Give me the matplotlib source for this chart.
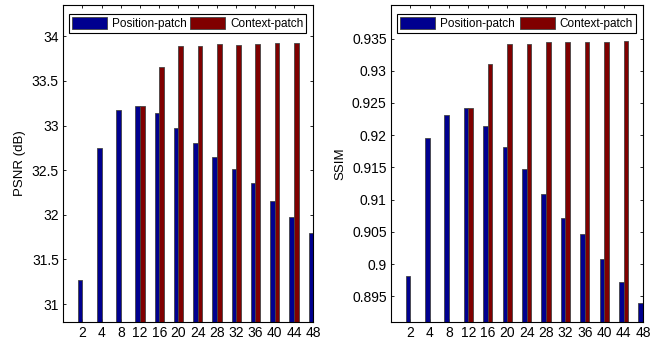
import numpy as np
import matplotlib
matplotlib.use("Agg")
import matplotlib.pyplot as plt

plt.rcParams["font.family"] = ["Liberation Sans", "DejaVu Sans"]

# patch sizes (x categories)
sizes = ["2", "4", "8", "12", "16", "20", "24", "28", "32", "36", "40", "44", "48"]

# PSNR (dB)
psnr_position = [31.27, 32.75, 33.18, 33.22, 33.14, 32.97, 32.80, 32.65, 32.51, 32.36, 32.15, 31.98, 31.80]
psnr_context = [np.nan, np.nan, np.nan, 33.22, 33.66, 33.89, 33.89, 33.91, 33.90, 33.91, 33.92, 33.92, 33.92]

# SSIM
ssim_position = [0.8982, 0.9196, 0.9231, 0.9242, 0.9214, 0.9182, 0.9147, 0.9109, 0.9071, 0.9046, 0.9008, 0.8972, 0.8939]
ssim_context = [np.nan, np.nan, np.nan, 0.9242, 0.9311, 0.9342, 0.9342, 0.9344, 0.9345, 0.9345, 0.9345, 0.9346, 0.9346]

BLUE = "#00008f"
RED = "#800000"


def draw_panel(ax, pos_vals, ctx_vals, ylim, yticks, yticklabels, ylabel):
    x = np.arange(1, len(sizes) + 1)
    w = 0.24
    b1 = ax.bar(x - w / 2, pos_vals, width=w, color=BLUE, edgecolor="#444444",
                linewidth=0.6, label="Position-patch", zorder=2)
    b2 = ax.bar(x + w / 2, ctx_vals, width=w, color=RED, edgecolor="#444444",
                linewidth=0.6, label="Context-patch", zorder=2)
    ax.set_xlim(0, len(sizes))
    ax.set_ylim(*ylim)
    ax.set_xticks(x)
    ax.set_xticklabels(sizes)
    ax.set_yticks(yticks)
    ax.set_yticklabels(yticklabels)
    ax.set_ylabel(ylabel, fontsize=9.5, labelpad=4)
    ax.tick_params(direction="in", length=2.5, width=0.6, top=True, right=True,
                   labelsize=10, pad=3)
    for s in ax.spines.values():
        s.set_linewidth(0.8)
    leg = ax.legend(handles=[b1, b2], loc="lower left", ncol=2, mode="expand",
                    bbox_to_anchor=(0.024, 0.912, 0.948, 0.066),
                    borderaxespad=0, fontsize=8.5, handlelength=3.0,
                    handleheight=1.1, handletextpad=0.4, columnspacing=0.6,
                    borderpad=0.25, fancybox=False, framealpha=1)
    leg.get_frame().set_edgecolor("black")
    leg.get_frame().set_linewidth(0.8)
    leg.set_zorder(5)


fig = plt.figure(figsize=(6.67, 3.46), dpi=100)
ax1 = fig.add_axes([0.0945, 0.0694, 0.375, 0.916])
ax2 = fig.add_axes([0.586, 0.0694, 0.378, 0.916])

draw_panel(ax1, psnr_position, psnr_context, (30.8, 34.35),
           [31, 31.5, 32, 32.5, 33, 33.5, 34],
           ["31", "31.5", "32", "32.5", "33", "33.5", "34"], "PSNR (dB)")
draw_panel(ax2, ssim_position, ssim_context, (0.891, 0.9402),
           [0.895, 0.9, 0.905, 0.91, 0.915, 0.92, 0.925, 0.93, 0.935],
           ["0.895", "0.9", "0.905", "0.91", "0.915", "0.92", "0.925", "0.93", "0.935"],
           "SSIM")

fig.savefig("out.png", dpi=100)
